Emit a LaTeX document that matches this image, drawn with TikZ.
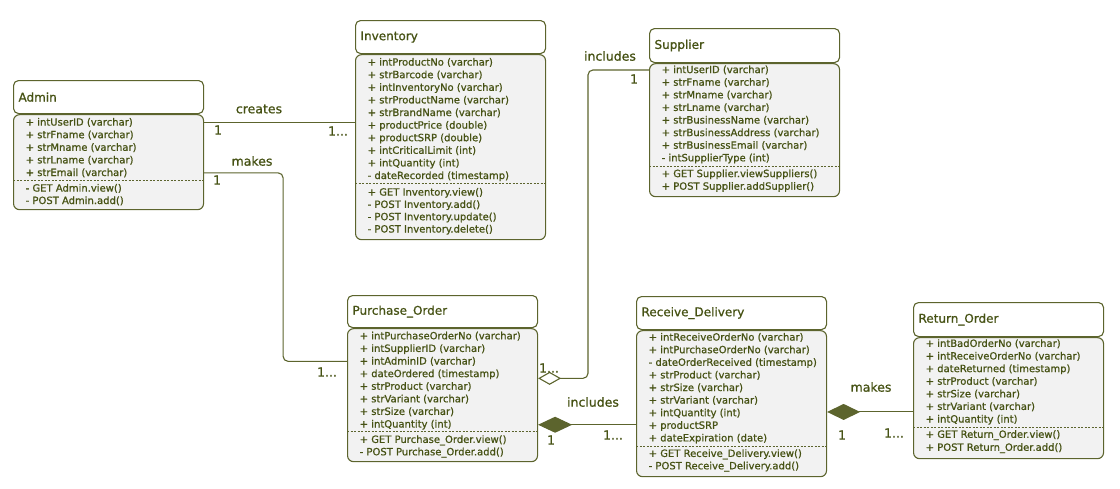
\documentclass[tikz,border=0pt]{standalone}
\usepackage{fontspec}
\setmainfont{DejaVu Sans}[FakeBold=0.9]
\usetikzlibrary{arrows.meta}

\definecolor{umlline}{RGB}{92,100,45}
\definecolor{umltext}{RGB}{70,82,20}
\definecolor{umlfill}{RGB}{242,242,242}

\begin{document}
\begin{tikzpicture}[x=1pt, y=-1pt,
    classhead/.style={draw=umlline, fill=white, line width=1.1pt, rounded corners=5pt, anchor=north west,
        minimum height=33pt, text width=180pt, inner xsep=5pt, inner ysep=0pt, align=left,
        font=\fontsize{12}{14}\selectfont, text=umltext},
    classbox/.style={draw=umlline, fill=umlfill, line width=1.1pt, rounded corners=6pt, anchor=north west,
        minimum width=190pt, inner sep=0pt},
    member/.style={anchor=base west, inner sep=0pt, font=\fontsize{10}{12}\selectfont, text=umltext},
    sep/.style={draw=umlline, dash pattern=on 2pt off 1.5pt, line width=0.8pt},
    link/.style={draw=umlline, line width=1.1pt, rounded corners=5pt},
    lbl/.style={inner sep=0pt, font=\fontsize{12.5}{14}\selectfont, text=umltext}
  ]
    \useasboundingbox (0,0) rectangle (1120,488);

    % Admin
    \node[classhead] (admin) at (13,80) {Admin};
    \node[classbox, minimum height=95pt] (adminbox) at (admin.south west) {};
    \foreach \t [count=\i] in {+ intUserID (varchar), + strFname (varchar), + strMname (varchar),
        + strLname (varchar), + strEmail (varchar)}
        \node[member] (adm-a\i) at (25.5, {125.6+12.6*(\i-1)}) {\t};
    \draw[sep] (adminbox.west |- 0,180) -- (adminbox.east |- 0,180);
    \foreach \t [count=\i] in {- GET Admin.view(), - POST Admin.add()}
        \node[member] (adm-m\i) at (25.5, {191.6+12.4*(\i-1)}) {\t};

    % Inventory
    \node[classhead] (inv) at (355,20) {Inventory};
    \node[classbox, minimum height=185pt] (invbox) at (inv.south west) {};
    \foreach \t [count=\i] in {+ intProductNo (varchar), + strBarcode (varchar), + intInventoryNo (varchar),
        + strProductName (varchar), + strBrandName (varchar), + productPrice (double), + productSRP (double),
        + intCriticalLimit (int), + intQuantity (int), - dateRecorded (timestamp)}
        \node[member] (inv-a\i) at (367.5, {65.6+12.6*(\i-1)}) {\t};
    \draw[sep] (invbox.west |- 0,183) -- (invbox.east |- 0,183);
    \foreach \t [count=\i] in {+ GET Inventory.view(), - POST Inventory.add(), - POST Inventory.update(),
        - POST Inventory.delete()}
        \node[member] (inv-m\i) at (367.5, {195.6+12.3*(\i-1)}) {\t};

    % Supplier
    \node[classhead, minimum height=34pt] (sup) at (649,28) {Supplier};
    \node[classbox, minimum height=133pt] (supbox) at (sup.south west) {};
    \foreach \t [count=\i] in {+ intUserID (varchar), + strFname (varchar), + strMname (varchar),
        + strLname (varchar), + strBusinessName (varchar), + strBusinessAddress (varchar),
        + strBusinessEmail (varchar), - intSupplierType (int)}
        \node[member] (sup-a\i) at (661.5, {73.1+12.6*(\i-1)}) {\t};
    \draw[sep] (supbox.west |- 0,166) -- (supbox.east |- 0,166);
    \foreach \t [count=\i] in {+ GET Supplier.viewSuppliers(), + POST Supplier.addSupplier()}
        \node[member] (sup-m\i) at (661.5, {177.1+12.6*(\i-1)}) {\t};

    % Purchase_Order
    \node[classhead, minimum height=32pt] (po) at (347,295) {Purchase\_Order};
    \node[classbox, minimum height=133pt] (pobox) at (po.south west) {};
    \foreach \t [count=\i] in {+ intPurchaseOrderNo (varchar), + intSupplierID (varchar), + intAdminID (varchar),
        + dateOrdered (timestamp), + strProduct (varchar), + strVariant (varchar), + strSize (varchar),
        + intQuantity (int)}
        \node[member] (po-a\i) at (359.5, {339.3+12.6*(\i-1)}) {\t};
    \draw[sep] (pobox.west |- 0,431.7) -- (pobox.east |- 0,431.7);
    \foreach \t [count=\i] in {+ GET Purchase\_Order.view(), - POST Purchase\_Order.add()}
        \node[member] (po-m\i) at (359.5, {442.9+12.4*(\i-1)}) {\t};

    % Receive_Delivery
    \node[classhead] (rd) at (636,296) {Receive\_Delivery};
    \node[classbox, minimum height=146pt] (rdbox) at (rd.south west) {};
    \foreach \t [count=\i] in {+ intReceiveOrderNo (varchar), + intPurchaseOrderNo (varchar),
        - dateOrderReceived (timestamp), + strProduct (varchar), + strSize (varchar), + strVariant (varchar),
        + intQuantity (int), + productSRP, + dateExpiration (date)}
        \node[member] (rd-a\i) at (648.5, {340.6+12.6*(\i-1)}) {\t};
    \draw[sep] (rdbox.west |- 0,446) -- (rdbox.east |- 0,446);
    \foreach \t [count=\i] in {+ GET Receive\_Delivery.view(), - POST Receive\_Delivery.add()}
        \node[member] (rd-m\i) at (648.5, {456.9+12.4*(\i-1)}) {\t};

    % Return_Order
    \node[classhead, minimum height=34pt] (ro) at (913,302) {Return\_Order};
    \node[classbox, minimum height=121pt] (robox) at (ro.south west) {};
    \foreach \t [count=\i] in {+ intBadOrderNo (varchar), + intReceiveOrderNo (varchar),
        + dateReturned (timestamp), + strProduct (varchar), + strSize (varchar), + strVariant (varchar),
        + intQuantity (int)}
        \node[member] (ro-a\i) at (925.5, {346.9+12.6*(\i-1)}) {\t};
    \draw[sep] (robox.west |- 0,427.7) -- (robox.east |- 0,427.7);
    \foreach \t [count=\i] in {+ GET Return\_Order.view(), + POST Return\_Order.add()}
        \node[member] (ro-m\i) at (925.5, {437.8+13*(\i-1)}) {\t};

    % connectors
    \draw[link] (adminbox.east |- adm-a1) -- (invbox.west |- adm-a1);
    \draw[link] (adminbox.east |- adm-a5) -- ++(79,0) |- (pobox.west |- po-a3);
    \draw[link, -{Diamond[length=23pt, width=13pt, fill=white]}] (supbox.west |- sup-a1) -- ++(-61,0)
        |- ([yshift=-4pt]pobox.east |- po-a4);
    \draw[link, -{Diamond[length=34pt, width=16pt]}] (rdbox.west |- po-a8) -- (pobox.east |- po-a8);
    \draw[link, -{Diamond[length=33pt, width=16pt]}] ([yshift=1.5pt]robox.west |- rd-a7)
        -- ([yshift=1.5pt]rdbox.east |- rd-a7);

    % labels
    \node[lbl] (creates) at (259,109) {creates};
    \node[lbl] (creates-a) at (218,130) {1};
    \node[lbl] (creates-b) at (338,131) {1...};
    \node[lbl] (makes) at (252,161) {makes};
    \node[lbl] (makes-a) at (217,180) {1};
    \node[lbl] (makes-b) at (327,372) {1...};
    \node[lbl] (includes) at (610,56) {includes};
    \node[lbl] (includes-a) at (634,79) {1};
    \node[lbl] (includes-b) at (549,368) {1...};
    \node[lbl] (contains) at (593,402) {includes};
    \node[lbl] (contains-a) at (551,440) {1};
    \node[lbl] (contains-b) at (613,435) {1...};
    \node[lbl] (returns) at (871,387) {makes};
    \node[lbl] (returns-a) at (842,435) {1};
    \node[lbl] (returns-b) at (894,433) {1...};
\end{tikzpicture}
\end{document}
